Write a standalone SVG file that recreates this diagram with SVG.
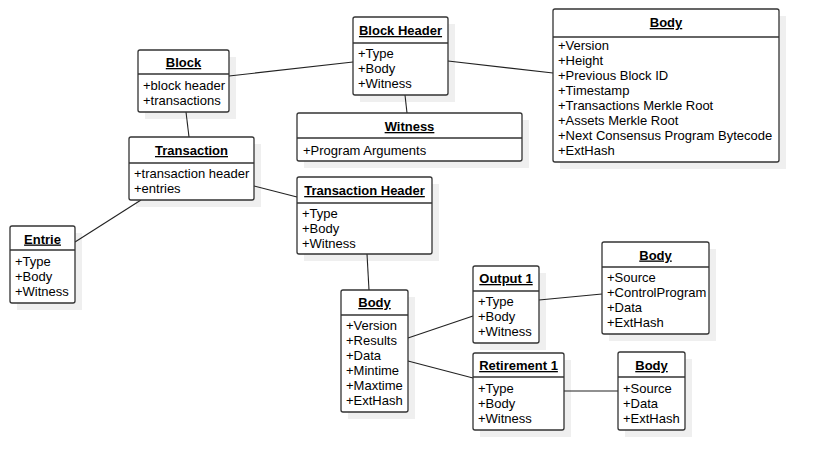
<svg xmlns="http://www.w3.org/2000/svg" width="819" height="470" viewBox="0 0 819 470">
<style>
.sh{fill:#efefef;stroke:none}
.bx{fill:#ffffff;stroke:#333333;stroke-width:1.3}
.sep{stroke:#333333;stroke-width:1.3}
.t{font-family:"Liberation Sans",Arial,sans-serif;font-size:13px;font-weight:bold;text-anchor:middle;text-decoration:underline;fill:#000}
.a{font-family:"Liberation Sans",Arial,sans-serif;font-size:13px;fill:#000}
.c{stroke:#222222;stroke-width:1.1;fill:none}
</style>
<rect width="819" height="470" fill="#ffffff"/>
<g id="shadows">
<rect class="sh" x="145" y="57" width="91" height="62"/>
<rect class="sh" x="360" y="24" width="95" height="78"/>
<rect class="sh" x="304" y="120" width="225" height="48"/>
<rect class="sh" x="560" y="16" width="226" height="153"/>
<rect class="sh" x="136" y="144" width="125" height="63"/>
<rect class="sh" x="17" y="233" width="65" height="77"/>
<rect class="sh" x="304" y="184" width="135" height="77"/>
<rect class="sh" x="348" y="297" width="67" height="122"/>
<rect class="sh" x="480" y="273" width="66" height="77"/>
<rect class="sh" x="480" y="360" width="91" height="77"/>
<rect class="sh" x="609" y="249" width="107" height="92"/>
<rect class="sh" x="625" y="359" width="67" height="78"/>
</g>
<g id="connectors">
<line class="c" x1="229" y1="76" x2="353" y2="62"/>
<line class="c" x1="448" y1="61" x2="553" y2="73"/>
<line class="c" x1="405" y1="95" x2="407" y2="113"/>
<line class="c" x1="186" y1="112" x2="189" y2="137"/>
<line class="c" x1="141" y1="200" x2="75" y2="242"/>
<line class="c" x1="254" y1="186" x2="297" y2="197"/>
<line class="c" x1="367" y1="254" x2="369" y2="290"/>
<line class="c" x1="408" y1="338" x2="473" y2="316"/>
<line class="c" x1="408" y1="361" x2="473" y2="378"/>
<line class="c" x1="539" y1="300" x2="602" y2="294"/>
<line class="c" x1="564" y1="391" x2="618" y2="391"/>
</g>
<g id="block">
<rect class="bx" x="138" y="50" width="91" height="62" rx="2"/>
<line class="sep" x1="138" y1="74" x2="229" y2="74"/>
<text class="t" x="183.5" y="67">Block</text>
<text class="a" x="143" y="90">+block header</text>
<text class="a" x="143" y="105">+transactions</text>
</g>
<g id="blockHeader">
<rect class="bx" x="353" y="17" width="95" height="78" rx="2"/>
<line class="sep" x1="353" y1="43" x2="448" y2="43"/>
<text class="t" x="400.5" y="35">Block Header</text>
<text class="a" x="358" y="58">+Type</text>
<text class="a" x="358" y="73">+Body</text>
<text class="a" x="358" y="88">+Witness</text>
</g>
<g id="witness">
<rect class="bx" x="297" y="113" width="225" height="48" rx="2"/>
<line class="sep" x1="297" y1="138" x2="522" y2="138"/>
<text class="t" x="409.5" y="131">Witness</text>
<text class="a" x="303" y="154.5">+Program Arguments</text>
</g>
<g id="blockBody">
<rect class="bx" x="553" y="9" width="226" height="153" rx="2"/>
<line class="sep" x1="553" y1="37" x2="779" y2="37"/>
<text class="t" x="666" y="27">Body</text>
<text class="a" x="558" y="50">+Version</text>
<text class="a" x="558" y="65">+Height</text>
<text class="a" x="558" y="80">+Previous Block ID</text>
<text class="a" x="558" y="95">+Timestamp</text>
<text class="a" x="558" y="110">+Transactions Merkle Root</text>
<text class="a" x="558" y="125">+Assets Merkle Root</text>
<text class="a" x="558" y="140">+Next Consensus Program Bytecode</text>
<text class="a" x="558" y="155">+ExtHash</text>
</g>
<g id="transaction">
<rect class="bx" x="129" y="137" width="125" height="63" rx="2"/>
<line class="sep" x1="129" y1="163" x2="254" y2="163"/>
<text class="t" x="191.5" y="155">Transaction</text>
<text class="a" x="134" y="178">+transaction header</text>
<text class="a" x="134" y="193">+entries</text>
</g>
<g id="entrie">
<rect class="bx" x="10" y="226" width="65" height="77" rx="2"/>
<line class="sep" x1="10" y1="250" x2="75" y2="250"/>
<text class="t" x="42.5" y="243.5">Entrie</text>
<text class="a" x="15" y="266">+Type</text>
<text class="a" x="15" y="281">+Body</text>
<text class="a" x="15" y="296">+Witness</text>
</g>
<g id="transactionHeader">
<rect class="bx" x="297" y="177" width="135" height="77" rx="2"/>
<line class="sep" x1="297" y1="203" x2="432" y2="203"/>
<text class="t" x="364.5" y="195">Transaction Header</text>
<text class="a" x="302" y="218">+Type</text>
<text class="a" x="302" y="233">+Body</text>
<text class="a" x="302" y="248">+Witness</text>
</g>
<g id="txBody">
<rect class="bx" x="341" y="290" width="67" height="122" rx="2"/>
<line class="sep" x1="341" y1="315" x2="408" y2="315"/>
<text class="t" x="374.5" y="307">Body</text>
<text class="a" x="346" y="330">+Version</text>
<text class="a" x="346" y="345">+Results</text>
<text class="a" x="346" y="360">+Data</text>
<text class="a" x="346" y="375">+Mintime</text>
<text class="a" x="346" y="390">+Maxtime</text>
<text class="a" x="346" y="405">+ExtHash</text>
</g>
<g id="output1">
<rect class="bx" x="473" y="266" width="66" height="77" rx="2"/>
<line class="sep" x1="473" y1="291" x2="539" y2="291"/>
<text class="t" x="506" y="283">Output 1</text>
<text class="a" x="478" y="306">+Type</text>
<text class="a" x="478" y="321">+Body</text>
<text class="a" x="478" y="336">+Witness</text>
</g>
<g id="retirement1">
<rect class="bx" x="473" y="353" width="91" height="77" rx="2"/>
<line class="sep" x1="473" y1="377" x2="564" y2="377"/>
<text class="t" x="518.5" y="370">Retirement 1</text>
<text class="a" x="478" y="393">+Type</text>
<text class="a" x="478" y="408">+Body</text>
<text class="a" x="478" y="423">+Witness</text>
</g>
<g id="outputBody">
<rect class="bx" x="602" y="242" width="107" height="92" rx="2"/>
<line class="sep" x1="602" y1="267" x2="709" y2="267"/>
<text class="t" x="655.5" y="259.5">Body</text>
<text class="a" x="607" y="282">+Source</text>
<text class="a" x="607" y="297">+ControlProgram</text>
<text class="a" x="607" y="312">+Data</text>
<text class="a" x="607" y="327">+ExtHash</text>
</g>
<g id="retirementBody">
<rect class="bx" x="618" y="352" width="67" height="78" rx="2"/>
<line class="sep" x1="618" y1="377" x2="685" y2="377"/>
<text class="t" x="651.5" y="370">Body</text>
<text class="a" x="623" y="393">+Source</text>
<text class="a" x="623" y="408">+Data</text>
<text class="a" x="623" y="423">+ExtHash</text>
</g>
</svg>
